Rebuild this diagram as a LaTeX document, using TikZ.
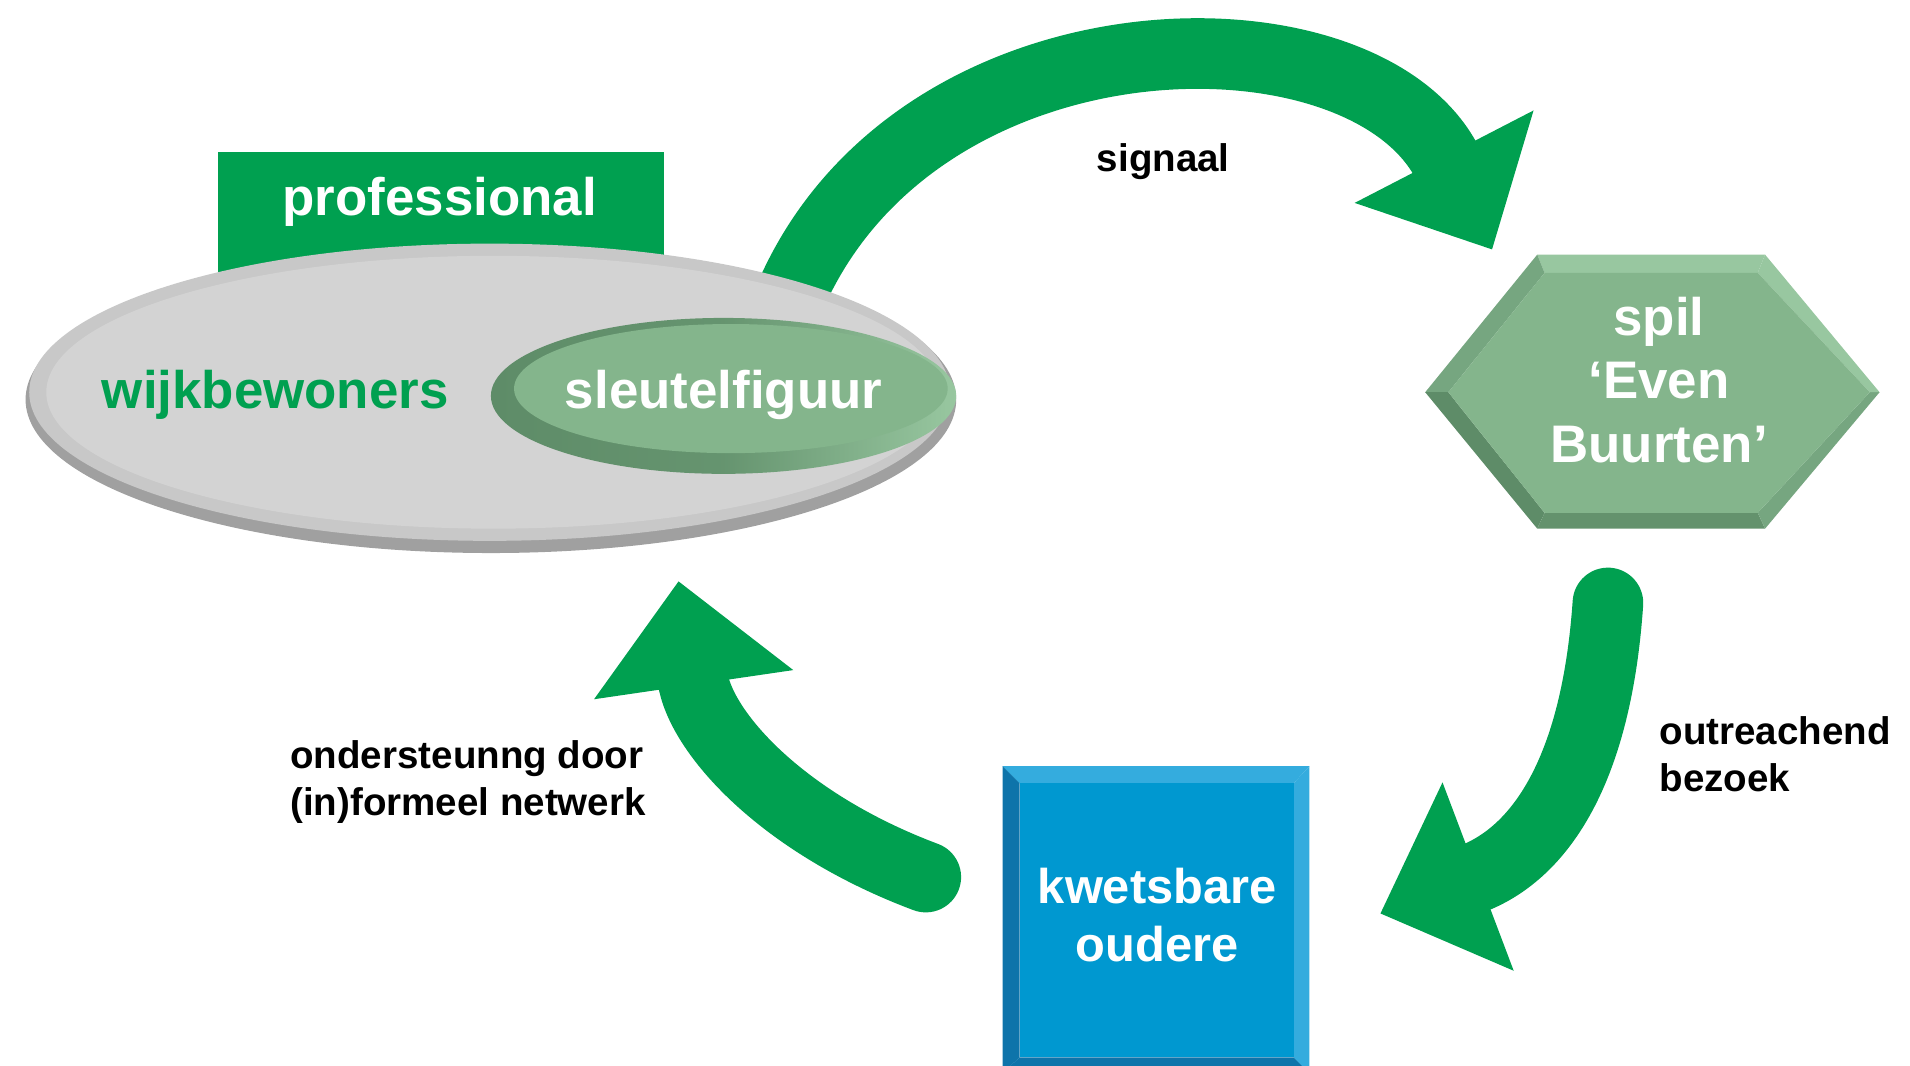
\documentclass[tikz,border=0pt]{standalone}
\usepackage{fontspec}
\setmainfont{Liberation Sans}
\usepackage{xcolor}
\usetikzlibrary{arrows.meta,positioning}
\definecolor{leafgreen}{RGB}{0,160,80}
\definecolor{sage}{RGB}{132,181,140}
\definecolor{sagelight}{RGB}{152,199,160}
\definecolor{sagemid}{RGB}{118,166,128}
\definecolor{sagedark}{RGB}{94,140,104}
\definecolor{sky}{RGB}{0,152,208}
\definecolor{skylight}{RGB}{52,172,222}
\definecolor{skydark}{RGB}{14,116,170}
\definecolor{pebble}{RGB}{211,211,211}
\definecolor{pebblerim}{RGB}{200,200,200}
\definecolor{pebbledark}{RGB}{160,160,160}
\tikzset{
  all/.style  = {align=center, inner sep=0pt},
  basic/.style  = {all, font=\bfseries\fontsize{24.7}{29.6}\selectfont},
  onshape/.style   = {basic, text=white},
  ingray/.style = {basic, text=leafgreen},
  tag/.style = {all, align=left, font=\bfseries\fontsize{18}{21.9}\selectfont},
  flow/.style = {draw=leafgreen, line width=1.16cm,
    -{Triangle[length=1.72cm, width=3.2cm]}}
}
\begin{document}
\begin{tikzpicture}[x=0.02cm, y=-0.02cm]
\useasboundingbox (0,0) rectangle (1568,875);
\clip (0,0) rectangle (1568,875);

% ends of the three flows
\coordinate (sigstart) at (648,245);
\coordinate (sigend) at (1225,205);
\coordinate (bezstart) at (1320,495);
\coordinate (bezend) at (1133,750);
\coordinate (netstart) at (760,720);
\coordinate (netend) at (557,477);

% signaal flow, its tail runs under the neighbourhood
\draw[flow] (sigstart) .. controls (752,2) and (1118,-2) .. (sigend);

% professional, behind the neighbourhood
\fill[leafgreen] (179,125) rectangle (545,240);
\node[onshape] (prof) at (361,166) {professional};

% the neighbourhood
\fill[pebbledark] (403,328) ellipse [x radius=382, y radius=126];
\fill[pebblerim] (402,322) ellipse [x radius=378, y radius=122];
\fill[pebble] (405,322) ellipse [x radius=367, y radius=112];
\node[ingray] (wijk) at (226,324) {wijkbewoners};

% the key figure
\shade[left color=sagedark, right color=sagelight, middle color=sagedark!80!sage]
  (594,325) ellipse [x radius=191, y radius=64];
\fill[sage] (600,319) ellipse [x radius=178, y radius=53];
\node[onshape] (sleutel) at (594,324) {sleutelfiguur};

% spil, bevelled hexagon
\fill[sagelight] (1262,209) -- (1449,209) -- (1443,224) -- (1268,224) -- cycle;
\fill[sagemid] (1170,322) -- (1262,209) -- (1268,224) -- (1189,322) -- cycle;
\fill[sagedark] (1170,322) -- (1189,322) -- (1268,421) -- (1262,434) -- cycle;
\fill[sagedark!85!sage] (1262,434) -- (1268,421) -- (1443,421) -- (1449,434) -- cycle;
\fill[sagemid] (1543,322) -- (1449,434) -- (1443,421) -- (1535,322) -- cycle;
\fill[sagelight] (1449,209) -- (1543,322) -- (1535,322) -- (1443,224) -- cycle;
\fill[sage] (1189,322) -- (1268,224) -- (1443,224) -- (1535,322) -- (1443,421) -- (1268,421) -- cycle;
\node[onshape] (spil) at (1362,312) {spil\\‘Even\\Buurten’};

% kwetsbare oudere, bevelled square
\fill[skylight] (823,629) -- (1075,629) -- (1062,643) -- (837,643) -- cycle;
\fill[skydark] (823,629) -- (837,643) -- (837,868) -- (823,881) -- cycle;
\fill[skydark] (823,881) -- (837,868) -- (1062,868) -- (1075,881) -- cycle;
\fill[skylight] (1075,629) -- (1075,881) -- (1062,868) -- (1062,643) -- cycle;
\fill[sky] (837,643) rectangle (1062,868);
\node[onshape, font=\bfseries\fontsize{22.8}{27.3}\selectfont] (oudere) at (950,751) {kwetsbare\\oudere};

% the other two flows
\draw[flow, line cap=round] (bezstart) .. controls (1310,640) and (1260,702) .. (bezend);
\draw[flow, line cap=round] (netstart) .. controls (640,675) and (575,600) .. (netend);

% labels
\node[tag] (signaal) at (955,133) {signaal};
\node[tag, anchor=west] (bezoek) at (1362,619) {outreachend\\bezoek};
\node[tag, anchor=west] (netwerk) at (238,642) {ondersteunng door\\(in)formeel netwerk};
\end{tikzpicture}
\end{document}
